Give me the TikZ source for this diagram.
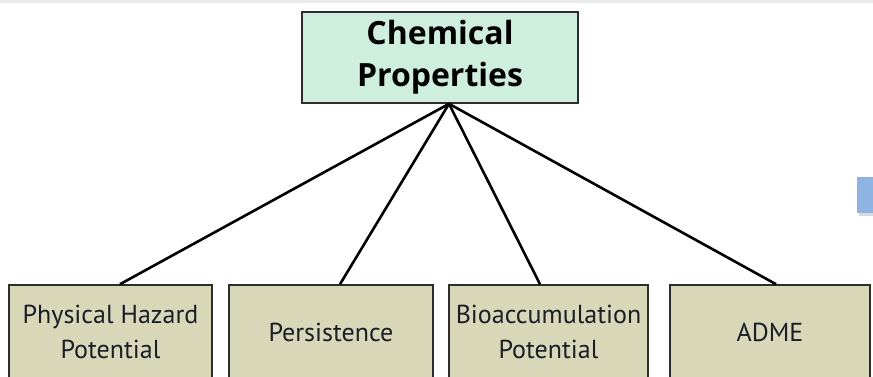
\documentclass[tikz,border=0pt]{standalone}
\usepackage{fontspec}
\setmainfont{PT Sans}
\newfontfamily\headfont{Open Sans}
\usepackage{xcolor}
\definecolor{headmint}{RGB}{206, 238, 222}
\definecolor{leafkhaki}{RGB}{216, 215, 184}
\definecolor{edgegray}{RGB}{45, 45, 45}
\definecolor{bandgray}{RGB}{232, 234, 236}
\definecolor{tabblue}{RGB}{141, 180, 226}
\definecolor{textdark}{RGB}{25, 30, 40}

\begin{document}
\begin{tikzpicture}[
        x=1pt, y=-1pt,
        head/.style={rectangle, draw=edgegray, line width=1.6pt, minimum width=276pt, minimum height=91pt, fill=headmint, text=black, align=center, font=\headfont\fontsize{32}{42}\selectfont\bfseries},
        leaf/.style={rectangle, draw=edgegray, line width=1.6pt, minimum height=94pt, fill=leafkhaki, text=textdark, align=center, font=\fontsize{26}{35}\selectfont},
        link/.style={line width=2.6pt, color=black}
    ]
    \useasboundingbox (0,0) rectangle (873,377);
    \clip (0,0) rectangle (873,377);

    % Page decorations
    \fill[bandgray] (0,0) rectangle (873,3);
    \fill[gray!30] (859,180) rectangle (873,216);
    \fill[tabblue] (857,177) rectangle (873,213);

    % Root
    \node[head] (chem) at (440, 57.5) {Chemical\\ Properties};

    % Leaves
    \node[leaf, minimum width=203pt] (hazard) at (110.5, 332) {Physical Hazard\\ Potential};
    \node[leaf, minimum width=204pt] (persist) at (331, 332) {Persistence};
    \node[leaf, minimum width=199pt] (bioacc) at (548.5, 332) {Bioaccumulation\\ Potential};
    \node[leaf, minimum width=200pt] (adme) at (770, 332) {ADME};

    % Connectors
    \draw[link] ([xshift=9pt]chem.south) -- ([xshift=9.5pt]hazard.north);
    \draw[link] ([xshift=9pt]chem.south) -- ([xshift=9pt]persist.north);
    \draw[link] ([xshift=9pt]chem.south) -- ([xshift=-8.5pt]bioacc.north);
    \draw[link] ([xshift=9pt]chem.south) -- ([xshift=6pt]adme.north);

\end{tikzpicture}
\end{document}
